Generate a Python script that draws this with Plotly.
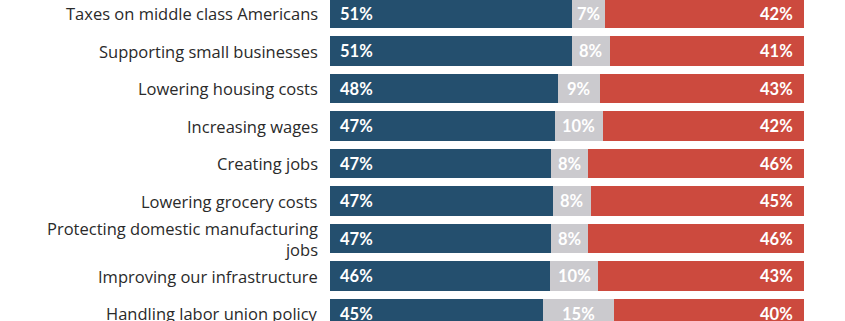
import plotly.graph_objects as go

categories = [
    "Taxes on middle class Americans",
    "Supporting small businesses",
    "Lowering housing costs",
    "Increasing wages",
    "Creating jobs",
    "Lowering grocery costs",
    "Protecting domestic manufacturing<br>jobs",
    "Improving our infrastructure",
    "Handling labor union policy",
]
dem = [51, 51, 48, 47, 47, 47, 47, 46, 45]
unsure = [7, 8, 9, 10, 8, 8, 8, 10, 15]
rep = [42, 41, 43, 42, 46, 45, 46, 43, 40]

BLUE = "#244F6E"
GRAY = "#CBCACE"
RED = "#CC4A3E"

totals = [d + u + r for d, u, r in zip(dem, unsure, rep)]
dn = [d / t * 100 for d, t in zip(dem, totals)]
un = [u / t * 100 for u, t in zip(unsure, totals)]
rn = [r / t * 100 for r, t in zip(rep, totals)]
ypos = list(range(len(categories)))

fig = go.Figure()
for vals, col, base in [
    (dn, BLUE, [0] * len(dn)),
    (un, GRAY, dn),
    (rn, RED, [a + b for a, b in zip(dn, un)]),
]:
    fig.add_trace(go.Bar(
        y=ypos, x=vals, base=base, orientation="h",
        marker=dict(color=col, line=dict(width=0)),
        width=0.78, hoverinfo="skip", showlegend=False,
    ))

lab_font = dict(family="Lato, Open Sans, sans-serif", size=16.5, color="white")
cat_font = dict(family="Open Sans, sans-serif", size=16.5, color="#2a2a2a")
ann = []
for i in range(len(categories)):
    ann.append(dict(x=0, y=ypos[i], xref="paper", yref="y", text=categories[i],
                    xanchor="right", xshift=-10, align="right", showarrow=False,
                    font=cat_font))
    ann.append(dict(x=0, y=ypos[i], xref="x", yref="y", text=f"<b>{dem[i]}%</b>",
                    xanchor="left", xshift=8, showarrow=False, font=lab_font))
    ann.append(dict(x=dn[i] + un[i] / 2, y=ypos[i], xref="x", yref="y",
                    text=f"<b>{unsure[i]}%</b>", xanchor="center",
                    showarrow=False, font=lab_font))
    ann.append(dict(x=100, y=ypos[i], xref="x", yref="y", text=f"<b>{rep[i]}%</b>",
                    xanchor="right", xshift=-9, showarrow=False, font=lab_font))

fig.update_layout(
    width=845, height=321,
    margin=dict(l=330, r=41, t=0, b=0),
    barmode="overlay", bargap=0,
    paper_bgcolor="white", plot_bgcolor="white",
    annotations=ann,
    xaxis=dict(range=[0, 100], visible=False, fixedrange=True),
    yaxis=dict(range=[8.2, -0.36], visible=False, fixedrange=True),
)

fig.write_html("out.html")
